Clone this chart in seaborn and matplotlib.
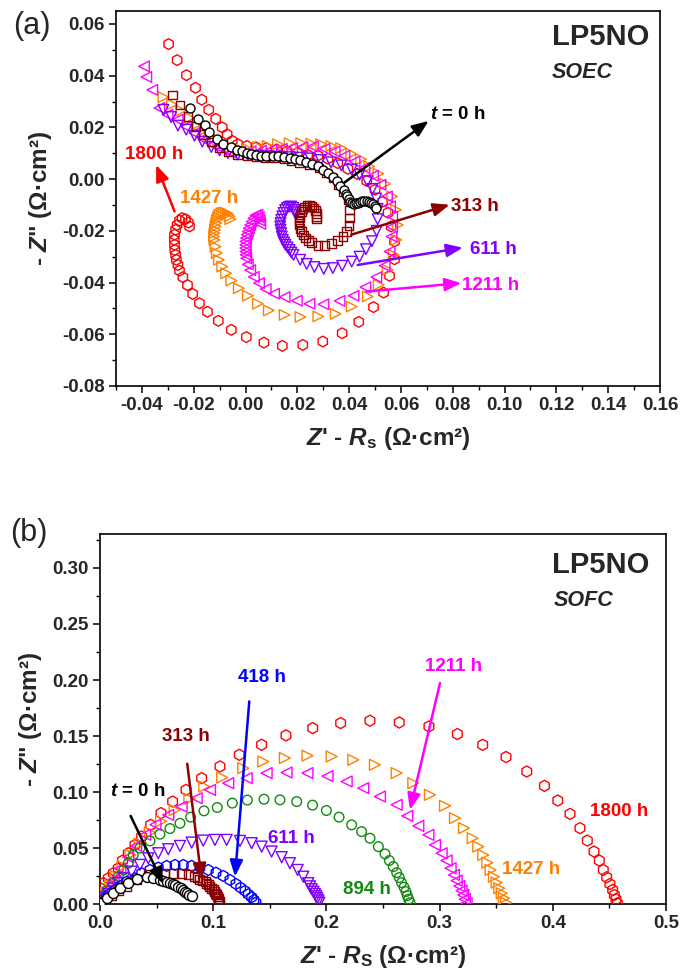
import numpy as np
import matplotlib
matplotlib.use("Agg")
import matplotlib.pyplot as plt
import seaborn as sns
from matplotlib.ticker import MultipleLocator, FormatStrFormatter

# ---------- panel (a) : SOEC, Z' - Rs vs -Z'' (ohm cm2) ----------
soec_t0_x = [-0.0216, -0.0184, -0.0158, -0.0141, -0.0110, -0.0087, -0.0055, -0.0034, -0.0013, 0.0005,
             0.0022, 0.0041, 0.0060, 0.0080, 0.0105, 0.0125, 0.0150, 0.0170, 0.0190, 0.0210,
             0.0234, 0.0257, 0.0279, 0.0299, 0.0318, 0.0337, 0.0353, 0.0366, 0.0379, 0.0389,
             0.0393, 0.0398, 0.0404, 0.0412, 0.0418, 0.0426, 0.0434, 0.0442, 0.0450, 0.0459,
             0.0468, 0.0476, 0.0484, 0.0491, 0.0498, 0.0505]
soec_t0_y = [0.0275, 0.0232, 0.0210, 0.0184, 0.0155, 0.0137, 0.0124, 0.0113, 0.0107, 0.0101,
             0.0098, 0.0094, 0.0091, 0.0091, 0.0090, 0.0090, 0.0087, 0.0083, 0.0079, 0.0074,
             0.0068, 0.0059, 0.0049, 0.0036, 0.0023, 0.0008, -0.0009, -0.0026, -0.0041, -0.0057,
             -0.0065, -0.0078, -0.0088, -0.0093, -0.0095, -0.0094, -0.0092, -0.0089, -0.0086, -0.0083,
             -0.0084, -0.0087, -0.0091, -0.0096, -0.0103, -0.0112]

soec_313_x = [-0.0281, -0.0253, -0.0222, -0.0192, -0.0162, -0.0132, -0.0100, -0.0065, -0.0030, 0.0005,
              0.0040, 0.0075, 0.0112, 0.0150, 0.0175, 0.0208, 0.0247, 0.0283, 0.0312, 0.0337,
              0.0357, 0.0376, 0.0395, 0.0402, 0.0402, 0.0400, 0.0389, 0.0376, 0.0354, 0.0331,
              0.0305, 0.0280, 0.0254, 0.0243, 0.0232, 0.0223, 0.0215, 0.0210, 0.0206, 0.0206,
              0.0208, 0.0211, 0.0215, 0.0221, 0.0228, 0.0237, 0.0247, 0.0256, 0.0264, 0.0270,
              0.0273, 0.0274, 0.0273]
soec_313_y = [0.0325, 0.0286, 0.0242, 0.0203, 0.0172, 0.0144, 0.0122, 0.0105, 0.0096, 0.0091,
              0.0087, 0.0084, 0.0081, 0.0077, 0.0073, 0.0064, 0.0055, 0.0043, 0.0023, 0.0004,
              -0.0022, -0.0048, -0.0080, -0.0119, -0.0151, -0.0180, -0.0203, -0.0222, -0.0237, -0.0250,
              -0.0257, -0.0257, -0.0245, -0.0238, -0.0228, -0.0216, -0.0203, -0.0190, -0.0177, -0.0164,
              -0.0151, -0.0138, -0.0125, -0.0115, -0.0108, -0.0103, -0.0102, -0.0106, -0.0112, -0.0121,
              -0.0132, -0.0144, -0.0155]

soec_611_x = [-0.0317, -0.0287, -0.0261, -0.0229, -0.0197, -0.0167, -0.0132, -0.0100, -0.0068, -0.0030,
              0.0010, 0.0050, 0.0090, 0.0130, 0.0170, 0.0210, 0.0250, 0.0290, 0.0330, 0.0370,
              0.0410, 0.0440, 0.0470, 0.0490, 0.0505, 0.0510, 0.0510, 0.0506, 0.0488, 0.0465,
              0.0440, 0.0410, 0.0373, 0.0337, 0.0302, 0.0266, 0.0236, 0.0211, 0.0185, 0.0177,
              0.0170, 0.0162, 0.0154, 0.0149, 0.0144, 0.0140, 0.0138, 0.0135, 0.0134, 0.0135,
              0.0138, 0.0142, 0.0147, 0.0153, 0.0160, 0.0168, 0.0176, 0.0184, 0.0189, 0.0193,
              0.0195]
soec_611_y = [0.0268, 0.0240, 0.0207, 0.0191, 0.0168, 0.0145, 0.0124, 0.0111, 0.0101, 0.0095,
              0.0092, 0.0090, 0.0088, 0.0087, 0.0085, 0.0083, 0.0080, 0.0074, 0.0065, 0.0053,
              0.0037, 0.0017, -0.0008, -0.0038, -0.0075, -0.0115, -0.0155, -0.0200, -0.0240, -0.0271,
              -0.0300, -0.0319, -0.0335, -0.0344, -0.0347, -0.0340, -0.0328, -0.0312, -0.0293, -0.0284,
              -0.0274, -0.0264, -0.0254, -0.0245, -0.0235, -0.0222, -0.0209, -0.0196, -0.0183, -0.0170,
              -0.0157, -0.0144, -0.0131, -0.0120, -0.0112, -0.0107, -0.0106, -0.0111, -0.0119, -0.0128,
              -0.0138]

soec_1211_x = [-0.0392, -0.0383, -0.0360, -0.0333, -0.0301, -0.0262, -0.0229, -0.0197, -0.0158, -0.0126,
               -0.0088, -0.0056, -0.0020, 0.0020, 0.0060, 0.0100, 0.0140, 0.0180, 0.0220, 0.0260,
               0.0305, 0.0344, 0.0382, 0.0421, 0.0459, 0.0492, 0.0521, 0.0546, 0.0558, 0.0566,
               0.0566, 0.0564, 0.0556, 0.0537, 0.0505, 0.0463, 0.0417, 0.0363, 0.0301, 0.0247,
               0.0198, 0.0151, 0.0110, 0.0078, 0.0052, 0.0032, 0.0018, 0.0009, 0.0003, 0.0001,
               0.0000, -0.0001, -0.0001, 0.0000, 0.0002, 0.0005, 0.0009, 0.0013, 0.0018, 0.0024,
               0.0031, 0.0039, 0.0046, 0.0051, 0.0055, 0.0057]
soec_1211_y = [0.0436, 0.0395, 0.0345, 0.0275, 0.0249, 0.0230, 0.0203, 0.0178, 0.0152, 0.0133,
               0.0116, 0.0103, 0.0105, 0.0108, 0.0110, 0.0113, 0.0117, 0.0120, 0.0124, 0.0126,
               0.0117, 0.0107, 0.0090, 0.0068, 0.0043, 0.0013, -0.0022, -0.0067, -0.0105, -0.0145,
               -0.0185, -0.0222, -0.0280, -0.0335, -0.0379, -0.0418, -0.0451, -0.0471, -0.0484, -0.0482,
               -0.0470, -0.0456, -0.0443, -0.0425, -0.0402, -0.0378, -0.0352, -0.0330, -0.0306, -0.0293,
               -0.0280, -0.0267, -0.0254, -0.0241, -0.0228, -0.0215, -0.0203, -0.0190, -0.0177, -0.0164,
               -0.0151, -0.0140, -0.0138, -0.0147, -0.0160, -0.0173]

soec_1427_x = [-0.0317, -0.0284, -0.0249, -0.0216, -0.0184, -0.0158, -0.0139, -0.0105, -0.0070, -0.0030,
               0.0009, 0.0048, 0.0086, 0.0125, 0.0170, 0.0215, 0.0254, 0.0292, 0.0331, 0.0369,
               0.0408, 0.0446, 0.0478, 0.0513, 0.0539, 0.0566, 0.0581, 0.0588, 0.0582, 0.0572,
               0.0549, 0.0514, 0.0472, 0.0410, 0.0348, 0.0281, 0.0212, 0.0151, 0.0090, 0.0048,
               0.0009, -0.0026, -0.0055, -0.0075, -0.0090, -0.0103, -0.0111, -0.0116, -0.0120, -0.0121,
               -0.0120, -0.0118, -0.0116, -0.0113, -0.0110, -0.0106, -0.0101, -0.0093, -0.0085, -0.0076,
               -0.0068, -0.0062, -0.0059]
soec_1427_y = [0.0317, 0.0289, 0.0265, 0.0237, 0.0214, 0.0191, 0.0171, 0.0148, 0.0130, 0.0120,
               0.0116, 0.0124, 0.0128, 0.0135, 0.0139, 0.0139, 0.0137, 0.0135, 0.0128, 0.0120,
               0.0098, 0.0077, 0.0049, 0.0021, -0.0018, -0.0067, -0.0119, -0.0177, -0.0235, -0.0293,
               -0.0351, -0.0409, -0.0454, -0.0493, -0.0521, -0.0531, -0.0533, -0.0525, -0.0508, -0.0482,
               -0.0451, -0.0422, -0.0392, -0.0364, -0.0338, -0.0312, -0.0286, -0.0261, -0.0235, -0.0222,
               -0.0209, -0.0196, -0.0183, -0.0170, -0.0157, -0.0147, -0.0138, -0.0132, -0.0129, -0.0130,
               -0.0134, -0.0144, -0.0155]

soec_1800_x = [-0.0297, -0.0264, -0.0228, -0.0193, -0.0169, -0.0142, -0.0115, -0.0090, -0.0071, -0.0051,
               -0.0030, 0.0005, 0.0040, 0.0080, 0.0120, 0.0160, 0.0200, 0.0240, 0.0279, 0.0318,
               0.0356, 0.0395, 0.0431, 0.0468, 0.0500, 0.0529, 0.0550, 0.0562, 0.0575, 0.0575,
               0.0556, 0.0533, 0.0494, 0.0437, 0.0373, 0.0298, 0.0221, 0.0142, 0.0071, 0.0003,
               -0.0055, -0.0105, -0.0147, -0.0178, -0.0204, -0.0224, -0.0242, -0.0255, -0.0261, -0.0267,
               -0.0270, -0.0273, -0.0274, -0.0275, -0.0274, -0.0270, -0.0264, -0.0255, -0.0245, -0.0232,
               -0.0221, -0.0216]
soec_1800_y = [0.0522, 0.0460, 0.0402, 0.0353, 0.0307, 0.0268, 0.0233, 0.0200, 0.0173, 0.0148,
               0.0135, 0.0128, 0.0123, 0.0120, 0.0115, 0.0108, 0.0101, 0.0094, 0.0091, 0.0079,
               0.0062, 0.0040, 0.0020, -0.0007, -0.0041, -0.0087, -0.0130, -0.0183, -0.0241, -0.0310,
               -0.0374, -0.0439, -0.0495, -0.0552, -0.0596, -0.0628, -0.0641, -0.0645, -0.0632, -0.0611,
               -0.0583, -0.0548, -0.0513, -0.0480, -0.0444, -0.0410, -0.0379, -0.0354, -0.0332, -0.0312,
               -0.0293, -0.0274, -0.0254, -0.0235, -0.0215, -0.0196, -0.0177, -0.0160, -0.0151, -0.0155,
               -0.0168, -0.0183]

# ---------- panel (b) : SOFC ----------
sofc_t0_x = [0.0000, 0.0059, 0.0118, 0.0177, 0.0250, 0.0324, 0.0412, 0.0471, 0.0530, 0.0555,
             0.0589, 0.0615, 0.0642, 0.0665, 0.0692, 0.0715, 0.0736, 0.0755, 0.0771, 0.0790, 0.0810]
sofc_t0_y = [0.0014, 0.0054, 0.0098, 0.0143, 0.0188, 0.0223, 0.0246, 0.0232, 0.0217, 0.0210,
             0.0202, 0.0192, 0.0181, 0.0170, 0.0157, 0.0143, 0.0128, 0.0113, 0.0098, 0.0086, 0.0074]

sofc_313_x = [0.0000, 0.0044, 0.0100, 0.0160, 0.0236, 0.0324, 0.0427, 0.0500, 0.0574, 0.0648,
              0.0721, 0.0780, 0.0839, 0.0860, 0.0883, 0.0905, 0.0928, 0.0943, 0.0957, 0.0972,
              0.0986, 0.1001, 0.1016, 0.1024, 0.1031, 0.1039, 0.1046, 0.1051, 0.1055, 0.1058]
sofc_313_y = [0.0009, 0.0038, 0.0080, 0.0120, 0.0157, 0.0217, 0.0262, 0.0270, 0.0277, 0.0277,
              0.0270, 0.0262, 0.0246, 0.0235, 0.0223, 0.0213, 0.0202, 0.0187, 0.0172, 0.0158,
              0.0143, 0.0128, 0.0113, 0.0098, 0.0083, 0.0068, 0.0054, 0.0038, 0.0023, 0.0010]

sofc_418_x = [0.0000, 0.0044, 0.0088, 0.0133, 0.0183, 0.0236, 0.0309, 0.0368, 0.0442, 0.0515,
              0.0589, 0.0663, 0.0736, 0.0810, 0.0883, 0.0957, 0.1025, 0.1089, 0.1148, 0.1201,
              0.1243, 0.1281, 0.1310, 0.1340, 0.1360, 0.1378]
sofc_418_y = [0.0014, 0.0054, 0.0092, 0.0128, 0.0163, 0.0202, 0.0232, 0.0277, 0.0306, 0.0327,
              0.0342, 0.0351, 0.0351, 0.0342, 0.0330, 0.0306, 0.0282, 0.0253, 0.0217, 0.0181,
              0.0148, 0.0119, 0.0089, 0.0063, 0.0038, 0.0014]

sofc_611_x = [0.0000, 0.0035, 0.0074, 0.0118, 0.0162, 0.0212, 0.0280, 0.0353, 0.0427, 0.0515,
              0.0603, 0.0707, 0.0810, 0.0912, 0.1016, 0.1119, 0.1237, 0.1340, 0.1428, 0.1516,
              0.1605, 0.1678, 0.1746, 0.1796, 0.1840, 0.1855, 0.1870, 0.1885, 0.1899, 0.1910,
              0.1920, 0.1930, 0.1937]
sofc_611_y = [0.0010, 0.0054, 0.0092, 0.0140, 0.0188, 0.0232, 0.0291, 0.0351, 0.0410, 0.0455,
              0.0491, 0.0520, 0.0550, 0.0568, 0.0574, 0.0574, 0.0565, 0.0545, 0.0514, 0.0470,
              0.0420, 0.0366, 0.0306, 0.0246, 0.0188, 0.0160, 0.0134, 0.0112, 0.0092, 0.0072,
              0.0054, 0.0034, 0.0014]

sofc_894_x = [0.0000, 0.0024, 0.0065, 0.0118, 0.0162, 0.0210, 0.0250, 0.0294, 0.0353, 0.0442,
              0.0530, 0.0618, 0.0707, 0.0801, 0.0919, 0.1036, 0.1169, 0.1302, 0.1449, 0.1590,
              0.1738, 0.1878, 0.2000, 0.2112, 0.2223, 0.2311, 0.2385, 0.2459, 0.2518, 0.2556,
              0.2591, 0.2621, 0.2644, 0.2664, 0.2686, 0.2703, 0.2715, 0.2727, 0.2739]
sofc_894_y = [0.0023, 0.0074, 0.0128, 0.0188, 0.0246, 0.0306, 0.0366, 0.0440, 0.0500, 0.0565,
              0.0625, 0.0675, 0.0722, 0.0777, 0.0833, 0.0863, 0.0902, 0.0929, 0.0937, 0.0931,
              0.0916, 0.0884, 0.0836, 0.0777, 0.0708, 0.0648, 0.0589, 0.0514, 0.0449, 0.0390,
              0.0336, 0.0282, 0.0238, 0.0193, 0.0152, 0.0113, 0.0077, 0.0045, 0.0014]

sofc_1211_x = [0.0010, 0.0030, 0.0070, 0.0120, 0.0180, 0.0250, 0.0320, 0.0400, 0.0490, 0.0603,
               0.0721, 0.0854, 0.0972, 0.1133, 0.1296, 0.1472, 0.1648, 0.1833, 0.2010, 0.2179,
               0.2326, 0.2473, 0.2621, 0.2715, 0.2812, 0.2901, 0.2959, 0.3018, 0.3062, 0.3097,
               0.3127, 0.3151, 0.3174, 0.3194, 0.3209, 0.3224, 0.3239]
sofc_1211_y = [0.0020, 0.0060, 0.0130, 0.0220, 0.0320, 0.0420, 0.0520, 0.0620, 0.0710, 0.0797,
               0.0871, 0.0946, 0.1020, 0.1080, 0.1125, 0.1170, 0.1175, 0.1170, 0.1143, 0.1095,
               0.1036, 0.0961, 0.0887, 0.0788, 0.0699, 0.0619, 0.0529, 0.0455, 0.0390, 0.0321,
               0.0262, 0.0211, 0.0163, 0.0121, 0.0083, 0.0045, 0.0009]

sofc_1427_x = [0.0020, 0.0050, 0.0090, 0.0140, 0.0200, 0.0270, 0.0350, 0.0440, 0.0540, 0.0660,
               0.0790, 0.0922, 0.1080, 0.1266, 0.1443, 0.1634, 0.1833, 0.2047, 0.2238, 0.2429,
               0.2621, 0.2768, 0.2915, 0.3048, 0.3136, 0.3216, 0.3292, 0.3342, 0.3386, 0.3422,
               0.3451, 0.3480, 0.3504, 0.3527, 0.3549, 0.3569, 0.3587]
sofc_1427_y = [0.0040, 0.0100, 0.0170, 0.0250, 0.0340, 0.0440, 0.0540, 0.0640, 0.0740, 0.0840,
               0.0940, 0.1050, 0.1130, 0.1214, 0.1273, 0.1304, 0.1325, 0.1318, 0.1288, 0.1244,
               0.1170, 0.1080, 0.0976, 0.0878, 0.0768, 0.0679, 0.0589, 0.0514, 0.0440, 0.0371,
               0.0306, 0.0246, 0.0193, 0.0143, 0.0098, 0.0054, 0.0014]

sofc_1800_x = [0.0000, 0.0005, 0.0030, 0.0074, 0.0118, 0.0162, 0.0200, 0.0250, 0.0309, 0.0368,
               0.0448, 0.0539, 0.0642, 0.0760, 0.0898, 0.1060, 0.1231, 0.1428, 0.1643, 0.1879,
               0.2126, 0.2385, 0.2644, 0.2906, 0.3157, 0.3381, 0.3587, 0.3770, 0.3926, 0.4044,
               0.4152, 0.4240, 0.4305, 0.4364, 0.4411, 0.4446, 0.4476, 0.4505, 0.4529, 0.4544,
               0.4558, 0.4570]
sofc_1800_y = [0.0080, 0.0143, 0.0188, 0.0232, 0.0277, 0.0321, 0.0390, 0.0455, 0.0529, 0.0604,
               0.0708, 0.0813, 0.0916, 0.1020, 0.1125, 0.1229, 0.1333, 0.1422, 0.1506, 0.1571,
               0.1616, 0.1637, 0.1621, 0.1586, 0.1518, 0.1422, 0.1313, 0.1184, 0.1056, 0.0925,
               0.0806, 0.0679, 0.0568, 0.0470, 0.0390, 0.0306, 0.0241, 0.0181, 0.0128, 0.0083,
               0.0045, 0.0009]

RED, ORANGE, MAGENTA, PURPLE = "#ff0000", "#ff8000", "#ff00ff", "#8000ff"
BROWN, GREEN, BLUE, BLACK = "#8b0000", "#108a10", "#0000ff", "#000000"

sns.set_theme(style="ticks")
plt.rcParams["font.family"] = ["Liberation Sans", "DejaVu Sans"]
plt.rcParams["font.weight"] = "bold"
plt.rcParams["axes.labelweight"] = "bold"
plt.rcParams["axes.unicode_minus"] = False
plt.rcParams["mathtext.fontset"] = "custom"
plt.rcParams["mathtext.rm"] = "Liberation Sans:bold"
plt.rcParams["mathtext.it"] = "Liberation Sans:italic:bold"
plt.rcParams["mathtext.bf"] = "Liberation Sans:bold"

LABEL_SIZE = 13.5


def Spectrum(ax, x, y, color, marker, size, face="none"):
    sns.scatterplot(x=x, y=y, ax=ax, marker=marker, s=size, color=color,
                    facecolor=face, edgecolor=color, linewidth=1.0, zorder=3)


def Arrow(ax, tail, head, color):
    ax.annotate("", xy=head, xytext=tail, zorder=5,
                arrowprops=dict(arrowstyle="-|>,head_length=0.7,head_width=0.28",
                                color=color, lw=1.8, mutation_scale=14, shrinkA=0, shrinkB=0))


def Note(ax, x, y, s, color, ha="center"):
    ax.text(x, y, s, color=color, fontsize=LABEL_SIZE, fontweight="bold", va="center", ha=ha,
            zorder=6)


def Frame(ax, xlim, ylim, xmaj, xmin, ymaj, ymin, xfmt, yfmt, xlabel):
    ax.set_xlim(*xlim)
    ax.set_ylim(*ylim)
    ax.xaxis.set_major_locator(MultipleLocator(xmaj))
    ax.xaxis.set_minor_locator(MultipleLocator(xmin))
    ax.yaxis.set_major_locator(MultipleLocator(ymaj))
    ax.yaxis.set_minor_locator(MultipleLocator(ymin))
    ax.xaxis.set_major_formatter(FormatStrFormatter(xfmt))
    ax.yaxis.set_major_formatter(FormatStrFormatter(yfmt))
    ax.tick_params(which="major", direction="out", length=5, width=1.1, labelsize=13.5,
                   top=False, right=False, color="black", pad=3)
    ax.tick_params(which="minor", direction="out", length=3, width=1.0,
                   top=False, right=False, color="black")
    for sp in ax.spines.values():
        sp.set_visible(True)
        sp.set_color("black")
        sp.set_linewidth(1.2)
    ax.set_xlabel(xlabel, fontsize=17.5, fontweight="bold", labelpad=8)
    ax.set_ylabel('- $Z$" (Ω·cm²)', fontsize=17.5, fontweight="bold", labelpad=6)


fig = plt.figure(figsize=(6.8, 9.74), dpi=100)
ax_a = fig.add_axes([0.1706, 0.6037, 0.8, 0.385])
ax_b = fig.add_axes([0.147, 0.0716, 0.8324, 0.3799])

# ---- (a) ----
Spectrum(ax_a, soec_1800_x, soec_1800_y, RED, "h", 60)
Spectrum(ax_a, soec_1427_x, soec_1427_y, ORANGE, ">", 58)
Spectrum(ax_a, soec_1211_x, soec_1211_y, MAGENTA, "<", 58)
Spectrum(ax_a, soec_611_x, soec_611_y, PURPLE, "v", 58)
Spectrum(ax_a, soec_313_x, soec_313_y, BROWN, "s", 38)
Spectrum(ax_a, soec_t0_x, soec_t0_y, BLACK, "o", 42, face="white")
Frame(ax_a, (-0.05, 0.16), (-0.08, 0.065), 0.02, 0.01, 0.02, 0.01, "%.2f", "%.2f",
      r"$Z$' - $R_\mathrm{s}$ (Ω·cm²)")

Arrow(ax_a, (0.0382, -0.0013), (0.0707, 0.0225), BLACK)
Note(ax_a, 0.0712, 0.0249, r"$t$ = 0 h", BLACK, ha="left")
Arrow(ax_a, (0.0408, -0.0215), (0.0788, -0.0099), BROWN)
Note(ax_a, 0.0792, -0.0106, "313 h", BROWN, ha="left")
Arrow(ax_a, (0.0433, -0.0332), (0.0839, -0.0265), PURPLE)
Note(ax_a, 0.0866, -0.0273, "611 h", PURPLE, ha="left")
Arrow(ax_a, (0.0466, -0.0435), (0.0833, -0.0402), MAGENTA)
Note(ax_a, 0.0837, -0.0413, "1211 h", MAGENTA, ha="left")
Arrow(ax_a, (-0.0274, -0.0125), (-0.0345, 0.0055), RED)
Note(ax_a, -0.0351, 0.0094, "1800 h", RED)
Note(ax_a, -0.0139, -0.0074, "1427 h", ORANGE)
ax_a.text(0.801, 0.931, "LP5NO", transform=ax_a.transAxes, fontsize=21, fontweight="bold",
          ha="left", va="center")
ax_a.text(0.801, 0.835, "SOEC", transform=ax_a.transAxes, fontsize=15.5, fontweight="bold",
          fontstyle="italic", ha="left", va="center")

# ---- (b) ----
Spectrum(ax_b, sofc_1800_x, sofc_1800_y, RED, "h", 64)
Spectrum(ax_b, sofc_1427_x, sofc_1427_y, ORANGE, ">", 62)
Spectrum(ax_b, sofc_1211_x, sofc_1211_y, MAGENTA, "<", 62)
Spectrum(ax_b, sofc_894_x, sofc_894_y, GREEN, "o", 48)
Spectrum(ax_b, sofc_611_x, sofc_611_y, PURPLE, "v", 62)
Spectrum(ax_b, sofc_418_x, sofc_418_y, BLUE, "h", 62)
Spectrum(ax_b, sofc_313_x, sofc_313_y, BROWN, "s", 42)
Spectrum(ax_b, sofc_t0_x, sofc_t0_y, BLACK, "o", 52, face="white")
Frame(ax_b, (0.0, 0.5), (0.0, 0.33), 0.1, 0.05, 0.05, 0.025, "%.1f", "%.2f",
      r"$Z$' - $R_\mathrm{S}$ (Ω·cm²)")

Arrow(ax_b, (0.0271, 0.0788), (0.0559, 0.0181), BLACK)
Note(ax_b, 0.0088, 0.1005, r"$t$ = 0 h", BLACK, ha="left")
Arrow(ax_b, (0.0771, 0.1253), (0.0898, 0.0217), BROWN)
Note(ax_b, 0.0758, 0.1496, "313 h", BROWN)
Arrow(ax_b, (0.1319, 0.1809), (0.1193, 0.0246), BLUE)
Note(ax_b, 0.1428, 0.2018, "418 h", BLUE)
Note(ax_b, 0.1693, 0.0583, "611 h", PURPLE)
Note(ax_b, 0.2356, 0.0128, "894 h", GREEN)
Arrow(ax_b, (0.3004, 0.1973), (0.2739, 0.0842), MAGENTA)
Note(ax_b, 0.3121, 0.2121, "1211 h", MAGENTA)
Note(ax_b, 0.3806, 0.0306, "1427 h", ORANGE)
Note(ax_b, 0.4585, 0.0827, "1800 h", RED)
ax_b.text(0.799, 0.917, "LP5NO", transform=ax_b.transAxes, fontsize=21, fontweight="bold",
          ha="left", va="center")
ax_b.text(0.801, 0.822, "SOFC", transform=ax_b.transAxes, fontsize=15.5, fontweight="bold",
          fontstyle="italic", ha="left", va="center")

fig.text(13 / 680, 1 - 26 / 974, "(a)", fontsize=22, fontweight="normal", va="center", ha="left")
fig.text(10 / 680, 1 - 533 / 974, "(b)", fontsize=22, fontweight="normal", va="center", ha="left")

fig.savefig("out.png", dpi=100)
